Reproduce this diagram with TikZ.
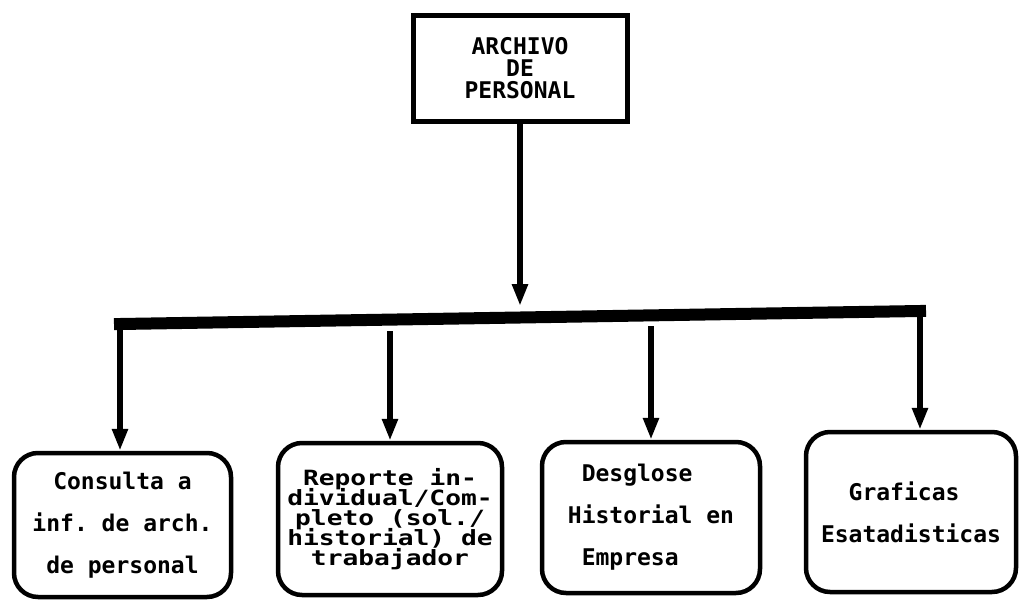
\documentclass[tikz,border=0pt]{standalone}
\usepackage{fontspec}
\setmonofont{DejaVu Sans Mono}
\newfontfamily\widemono[FakeStretch=1.25]{DejaVu Sans Mono}
\usetikzlibrary{arrows.meta}
\newcommand\negskip{\setlength\lineskiplimit{-100pt}}
\begin{document}
\begin{tikzpicture}[x=1pt,y=-1pt,
  every node/.style={font=\ttfamily\bfseries},
  titlebox/.style={draw,line width=5pt,inner sep=0pt,align=center,
    minimum width=214pt,minimum height=106pt,
    font=\ttfamily\bfseries\fontsize{23}{22}\selectfont\negskip},
  leafbox/.style={draw,line width=4.5pt,rounded corners=24pt,inner sep=0pt,
    font=\ttfamily\bfseries\fontsize{23}{42}\selectfont\negskip},
  tightleaf/.style={leafbox,
    font=\widemono\bfseries\fontsize{21}{20}\selectfont\negskip},
  conn/.style={line width=6pt,-{Triangle[width=15pt,length=22pt]}},
  busline/.style={line width=12pt,line cap=rect}]
\useasboundingbox (0,0) rectangle (1021,603);

% root
\node[titlebox] (top) at (520,68) {ARCHIVO\\DE\\PERSONAL};

% leaves
\node[leafbox,align=center,minimum width=217pt,minimum height=144pt]
  (b1) at (122.5,525) {Consulta a\\inf. de arch.\\de personal};
\node[tightleaf,align=center,minimum width=224pt,minimum height=152pt]
  (b2) at (390,519) {Reporte in-\\dividual/Com-\\pleto (sol./\\historial) de\\trabajador};
\node[leafbox,align=left,minimum width=218pt,minimum height=151pt]
  (b3) at (651,517.5) {\ Desglose\\Historial en\\\ Empresa};
\node[leafbox,align=left,minimum width=210pt,minimum height=160pt]
  (b4) at (911,512) {\ \ Graficas\\Esatadisticas};

% distribution bar
\coordinate (barL) at (120,324);
\coordinate (barR) at (920,311);
\draw[busline] (barL) -- (barR);

% feed from the root into the bar
\coordinate (hub) at (520,306);
\draw[conn] (top.south) -- (hub);

% branches down to the leaves
\coordinate (s2) at (390,331);
\coordinate (s3) at (651,326);
\draw[conn] (barL) -- (b1.north -| barL);
\draw[conn] (s2) -- (b2.north);
\draw[conn] (s3) -- (b3.north);
\draw[conn] (barR) -- (b4.north -| barR);
\end{tikzpicture}
\end{document}
